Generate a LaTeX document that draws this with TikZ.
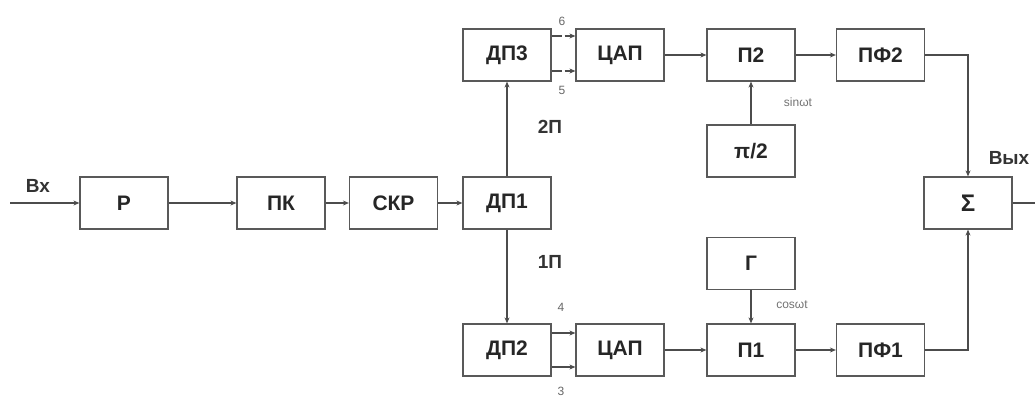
\documentclass[tikz,border=0pt]{standalone}
\usepackage{fontspec}
\setmainfont{Liberation Sans}
\usetikzlibrary{arrows.meta,calc}
\begin{document}
\begin{tikzpicture}[x=1pt,y=-1pt,
  blk/.style={draw=black!65,line width=1.2pt,minimum width=88pt,minimum height=52pt,inner sep=0pt,
    font=\fontsize{21}{24}\selectfont\bfseries,text=black!85},
  conn/.style={draw=black!70,line width=1.2pt,-{Stealth[length=6pt,width=5pt]}},
  line/.style={draw=black!70,line width=1.2pt},
  lbl/.style={font=\fontsize{19}{22}\selectfont\bfseries,text=black!80},
  num/.style={font=\fontsize{12}{14}\selectfont,text=black!60},
  sml/.style={font=\fontsize{12}{14}\selectfont,text=black!55}]
\useasboundingbox (0,0) rectangle (1035,396);
% nodes
\node[blk] (r) at (124,203) {Р};
\node[blk] (pk) at (281,203) {ПК};
\node[blk] (skr) at (393.5,203) {СКР};
\node[blk] (dp1) at (507,203) {ДП1};
\node[blk] (dp3) at (507,55) {ДП3};
\node[blk] (dp2) at (507,350) {ДП2};
\node[blk] (dac1) at (620,55) {ЦАП};
\node[blk] (dac2) at (620,350) {ЦАП};
\node[blk] (p2) at (751,55) {П2};
\node[blk] (pi) at (751,151) {π/2};
\node[blk] (g) at (751,263.5) {Г};
\node[blk] (p1) at (751,350) {П1};
\node[blk] (pf2) at (880.5,55) {ПФ2};
\node[blk] (pf1) at (880.5,350) {ПФ1};
\node[blk] (sum) at (968,203) {\fontsize{24}{26}\selectfont Σ};
\coordinate (in) at (10,203);
\coordinate (out) at (1035,203);
% labels
\node[lbl] (lin) at (38,186) {Вх};
\node[lbl] (lout) at (1009,158) {Вых};
\node[lbl] (l2p) at (550,127) {2П};
\node[lbl] (l1p) at (550,262) {1П};
\node[num] (n6) at (562,21) {6};
\node[num] (n5) at (562,90) {5};
\node[num] (n4) at (561,307) {4};
\node[num] (n3) at (561,391) {3};
\node[sml] (lsin) at (798,102) {sinωt};
\node[sml] (lcos) at (792,305) {cosωt};
% connectors
\draw[conn] (in) -- (r);
\draw[conn] (r) -- (pk);
\draw[conn] (pk) -- (skr);
\draw[conn] (skr) -- (dp1);
\draw[conn] (dp1) -- (dp3);
\draw[conn] (dp1) -- (dp2);
\draw[conn,dash pattern=on 10pt off 3pt on 30pt] (dp3.east |- 0,36) -- (dac1.west |- 0,36);
\draw[conn,dash pattern=on 10pt off 3pt on 30pt] (dp3.east |- 0,71) -- (dac1.west |- 0,71);
\draw[conn] (dp2.east |- 0,333) -- (dac2.west |- 0,333);
\draw[conn] (dp2.east |- 0,367) -- (dac2.west |- 0,367);
\draw[conn] (dac1) -- (p2);
\draw[conn] (dac2) -- (p1);
\draw[conn] (pi) -- (p2);
\draw[conn] (g) -- (p1);
\draw[conn] (p2) -- (pf2);
\draw[conn] (p1) -- (pf1);
\draw[conn] (pf2.east) -| (sum.north);
\draw[conn] (pf1.east) -| (sum.south);
\draw[line] (sum) -- (out);
\end{tikzpicture}
\end{document}
